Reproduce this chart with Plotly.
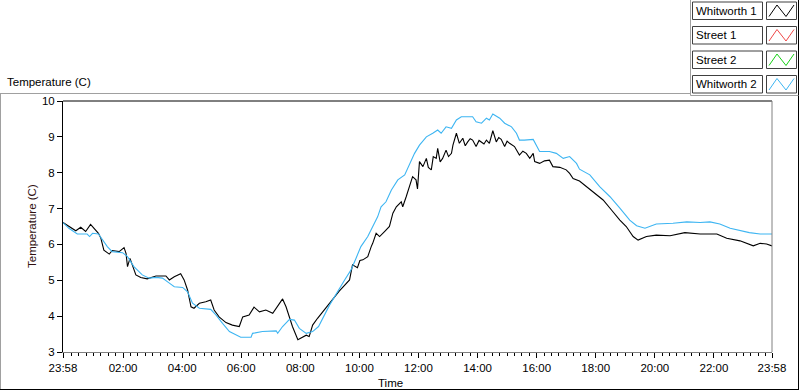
import plotly.graph_objects as go
from datetime import datetime, timedelta

# ---------------- data ----------------
start_time = datetime(2024, 1, 1, 23, 58)

# minutes since 23:58 and temperature (C)
w1_minutes = [0, 12, 26, 36, 46, 56, 63, 72, 77, 83, 94, 100, 114, 124, 128, 131, 136, 141, 148, 158,
              171, 189, 209, 216, 226, 239, 246, 253, 260, 266, 277, 290, 300, 307, 317, 331, 344, 358,
              365, 378, 388, 399, 412, 426, 436, 446, 453, 460, 466, 477, 487, 494, 500, 507, 517, 541,
              561, 582, 588, 598, 603, 609, 619, 626, 629, 636, 643, 653, 663, 670, 677, 687, 690, 697,
              704, 710, 717, 720, 724, 731, 738, 742, 748, 752, 758, 761, 766, 771, 778, 783, 789, 792,
              799, 805, 812, 817, 822, 827, 832, 839, 845, 850, 855, 860, 866, 873, 880, 885, 890, 897,
              902, 907, 917, 927, 934, 941, 948, 955, 958, 968, 978, 988, 995, 1009, 1022, 1029, 1036,
              1049, 1063, 1077, 1097, 1114, 1131, 1144, 1158, 1168, 1185, 1205, 1233, 1263, 1294, 1328,
              1348, 1375, 1402, 1416, 1429, 1440]
w1_temp = [6.61, 6.50, 6.38, 6.48, 6.36, 6.56, 6.45, 6.31, 6.17, 5.84, 5.73, 5.83, 5.80, 5.91, 5.75,
           5.38, 5.61, 5.43, 5.15, 5.08, 5.04, 5.12, 5.12, 5.01, 5.10, 5.18, 5.01, 4.73, 4.26, 4.22,
           4.36, 4.40, 4.45, 4.17, 3.98, 3.82, 3.75, 3.71, 3.98, 4.03, 4.25, 4.12, 4.17, 4.08, 4.28,
           4.48, 4.26, 3.98, 3.71, 3.34, 3.43, 3.47, 3.43, 3.75, 3.94, 4.35, 4.70, 5.01, 5.43, 5.35,
           5.55, 5.57, 5.66, 5.94, 6.03, 6.31, 6.22, 6.36, 6.50, 6.87, 7.05, 7.19, 7.05, 7.33, 7.61,
           7.89, 7.80, 7.55, 8.31, 8.17, 8.40, 8.15, 8.08, 8.45, 8.40, 8.68, 8.30, 8.40, 8.63, 8.45,
           8.54, 8.77, 9.10, 8.82, 8.96, 8.75, 8.86, 8.95, 8.91, 8.73, 8.90, 8.86, 8.80, 8.91, 8.82,
           9.17, 8.86, 8.98, 8.93, 8.73, 8.88, 8.82, 8.73, 8.49, 8.60, 8.54, 8.40, 8.54, 8.31, 8.26,
           8.33, 8.35, 8.17, 8.15, 8.08, 7.98, 7.84, 7.77, 7.61, 7.47, 7.24, 6.96, 6.68, 6.50, 6.22,
           6.12, 6.22, 6.26, 6.24, 6.33, 6.29, 6.29, 6.17, 6.10, 5.96, 6.03, 6.01, 5.96]

w2_minutes = [0, 12, 29, 49, 54, 60, 72, 80, 90, 100, 121, 131, 144, 161, 175, 189, 202, 216, 226, 243,
              253, 263, 277, 300, 311, 324, 338, 361, 382, 385, 405, 433, 436, 446, 460, 470, 480, 494,
              507, 519, 541, 572, 585, 595, 605, 619, 629, 639, 646, 656, 667, 680, 694, 704, 714, 724,
              738, 751, 761, 768, 778, 789, 799, 809, 832, 839, 850, 860, 866, 873, 887, 897, 911, 921,
              927, 937, 955, 968, 988, 1002, 1016, 1029, 1043, 1049, 1070, 1090, 1111, 1131, 1151, 1165,
              1182, 1205, 1239, 1267, 1294, 1314, 1334, 1355, 1375, 1394, 1416, 1440]
w2_temp = [6.61, 6.45, 6.29, 6.29, 6.22, 6.31, 6.29, 6.12, 5.94, 5.80, 5.77, 5.66, 5.38, 5.15, 5.06,
           5.08, 5.06, 4.92, 4.82, 4.80, 4.68, 4.36, 4.22, 4.19, 4.03, 3.80, 3.57, 3.41, 3.41, 3.52,
           3.57, 3.59, 3.52, 3.71, 3.91, 3.89, 3.66, 3.52, 3.57, 3.71, 4.30, 5.01, 5.29, 5.61, 5.94,
           6.22, 6.50, 6.77, 7.05, 7.19, 7.52, 7.80, 7.94, 8.26, 8.54, 8.77, 9.00, 9.10, 9.19, 9.10,
           9.28, 9.24, 9.47, 9.56, 9.56, 9.42, 9.38, 9.52, 9.47, 9.64, 9.52, 9.38, 9.28, 9.10, 8.91,
           8.91, 8.93, 8.59, 8.59, 8.54, 8.40, 8.45, 8.26, 8.10, 7.94, 7.61, 7.33, 7.01, 6.68, 6.52,
           6.45, 6.57, 6.59, 6.63, 6.61, 6.63, 6.57, 6.45, 6.38, 6.33, 6.29, 6.29]

series_names = ["Whitworth 1", "Street 1", "Street 2", "Whitworth 2"]
series_colors = ["#000000", "#F04848", "#18D018", "#3DB5F2"]

y_ticks = [3, 4, 5, 6, 7, 8, 9, 10]
x_tick_hours = [2, 4, 6, 8, 10, 12, 14, 16, 18, 20, 22]
x_tick_labels = ["23:58", "02:00", "04:00", "06:00", "08:00", "10:00", "12:00",
                 "14:00", "16:00", "18:00", "20:00", "22:00", "23:58"]

# ---------------- figure ----------------
W, H = 800, 392
L, R, T, B = 63, 772, 101, 352
FONT = "Liberation Sans"
FS = 11.5


def px(x):
    return (x - L) / (R - L)


def py(y):
    return (B - y) / (B - T)


def to_time(mins):
    return [start_time + timedelta(minutes=m) for m in mins]


end_time = start_time + timedelta(hours=24)
day2 = datetime(2024, 1, 2)
tickvals = [start_time] + [day2 + timedelta(hours=h) for h in x_tick_hours] + [end_time]

fig = go.Figure()
fig.add_trace(go.Scatter(x=to_time(w1_minutes), y=w1_temp, mode="lines", name=series_names[0],
                         line=dict(color=series_colors[0], width=1.1)))
fig.add_trace(go.Scatter(x=[], y=[], mode="lines", name=series_names[1],
                         line=dict(color=series_colors[1], width=1)))
fig.add_trace(go.Scatter(x=[], y=[], mode="lines", name=series_names[2],
                         line=dict(color=series_colors[2], width=1)))
fig.add_trace(go.Scatter(x=to_time(w2_minutes), y=w2_temp, mode="lines", name=series_names[3],
                         line=dict(color=series_colors[3], width=1.1)))

fig.update_layout(
    width=W, height=H,
    margin=dict(l=L, r=W - R, t=T, b=H - B, pad=0),
    paper_bgcolor="white", plot_bgcolor="white",
    showlegend=False,
    font=dict(family=FONT, size=FS, color="#000000"),
    xaxis=dict(
        type="date",
        range=[start_time, end_time],
        tickmode="array", tickvals=tickvals, ticktext=x_tick_labels,
        ticks="outside", ticklen=5, tickcolor="#000000", tickwidth=1,
        showgrid=False, zeroline=False,
        showline=True, linecolor="#808080", linewidth=1,
        tickfont=dict(family=FONT, size=FS, color="#000000"),
        minor=dict(dtick=15 * 60 * 1000, tick0=day2, ticks="outside", ticklen=3,
                   tickcolor="#000000", showgrid=False),
    ),
    yaxis=dict(
        range=[3, 10],
        tickmode="array", tickvals=y_ticks,
        ticks="outside", ticklen=5, tickcolor="#000000", tickwidth=1,
        showgrid=False, zeroline=False,
        showline=True, linecolor="#000000", linewidth=1,
        tickfont=dict(family=FONT, size=FS, color="#000000"),
    ),
)

shapes = []


def line(x0, y0, x1, y1, color, width=1):
    shapes.append(dict(type="line", xref="paper", yref="paper",
                       x0=px(x0), y0=py(y0), x1=px(x1), y1=py(y1),
                       line=dict(color=color, width=width), layer="above"))


# plot frame (top/right)
line(L, T, R, T, "#000000")
line(R, T, R, B, "#808080")
# outer panel frame
line(0, 93.5, 690, 93.5, "#A0A0A0")
line(0.5, 93.5, 0.5, 389.5, "#A0A0A0")
line(0, 389.5, 799, 389.5, "#000000")
line(798.5, 0, 798.5, 390, "#000000")
line(690.5, 0, 690.5, 95.5, "#A0A0A0")
line(690.5, 95.5, 798.5, 95.5, "#A0A0A0")

annotations = []

# legend: name boxes and sample boxes
for i, (name, col) in enumerate(zip(series_names, series_colors)):
    y0 = 2 + i * 24.5
    y1 = y0 + 17.5
    shapes.append(dict(type="rect", xref="paper", yref="paper",
                       x0=px(692.5), x1=px(762.5), y0=py(y1), y1=py(y0),
                       line=dict(color="#404040", width=1), fillcolor="white", layer="above"))
    shapes.append(dict(type="rect", xref="paper", yref="paper",
                       x0=px(766.5), x1=px(796.5), y0=py(y1), y1=py(y0),
                       line=dict(color="#404040", width=1), fillcolor="white", layer="above"))
    pts = [(769, y1 - 3), (777, y0 + 3), (786, y1 - 3), (794, y0 + 3)]
    path = "M " + " L ".join(f"{px(a):.5f},{py(b):.5f}" for a, b in pts)
    shapes.append(dict(type="path", xref="paper", yref="paper", path=path,
                       line=dict(color=col, width=1), layer="above"))
    annotations.append(dict(text=name, xref="paper", yref="paper", x=px(694), y=py((y0 + y1) / 2),
                            xanchor="left", yanchor="middle", showarrow=False,
                            font=dict(family=FONT, size=FS, color="#000000")))

# labels
annotations.append(dict(text="Temperature (C)", xref="paper", yref="paper", x=px(5), y=py(82),
                        xanchor="left", yanchor="middle", showarrow=False,
                        font=dict(family=FONT, size=FS, color="#000000")))
annotations.append(dict(text="Temperature (C)", xref="paper", yref="paper", x=px(32), y=py(226),
                        xanchor="center", yanchor="middle", showarrow=False, textangle=-90,
                        font=dict(family=FONT, size=FS, color="#301010")))
annotations.append(dict(text="Time", xref="paper", yref="paper", x=px(390), y=py(383),
                        xanchor="center", yanchor="middle", showarrow=False,
                        font=dict(family=FONT, size=FS, color="#000000")))

fig.update_layout(shapes=shapes, annotations=annotations)
fig.write_html("out.html", config={"displayModeBar": False},
               post_script="document.body.style.margin='0';document.body.style.padding='0';")
